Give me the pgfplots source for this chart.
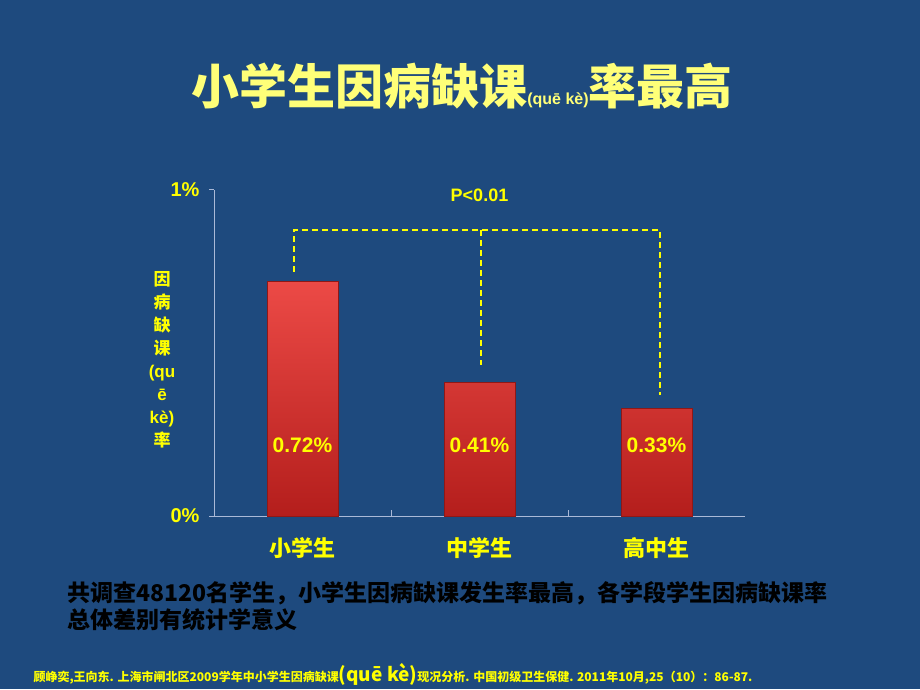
\documentclass[border=0pt]{standalone}
\usepackage{pgfplots}
\pgfplotsset{compat=1.18}
\usepackage{fontspec}
\setmainfont{Liberation Sans}
\newfontfamily\cjk{Noto Sans CJK SC}
\definecolor{bg}{RGB}{30,74,126}
\definecolor{ttl}{RGB}{255,255,120}
\definecolor{yel}{RGB}{255,255,0}
\definecolor{axc}{RGB}{170,185,215}
\definecolor{bartop}{RGB}{236,74,70}
\definecolor{barbot}{RGB}{180,30,28}
\begin{document}
\begin{tikzpicture}[x=1pt,y=1pt]
\fill[bg] (0,0) rectangle (920,689);
% title
\node[anchor=base,text=ttl,font=\bfseries] at (462,584)
 {{\cjk\fontsize{48}{52}\selectfont 小学生因病缺课}{\fontsize{16}{18}\selectfont (quē kè)}{\cjk\fontsize{48}{52}\selectfont 率最高}};
\begin{axis}[
  at={(214pt,173pt)}, anchor=south west,
  scale only axis, width=531pt, height=326pt,
  xmin=-0.5, xmax=2.5, ymin=0, ymax=1,
  axis x line*=bottom, axis y line*=left,
  axis line style={axc, line width=1pt},
  xtick={0,1,2}, xticklabels={小学生,中学生,高中生},
  minor xtick={0.5,1.5},
  x tick label style={font=\cjk\bfseries\fontsize{22}{24}\selectfont, text=yel, yshift=-18pt},
  major x tick style={draw=none},
  minor x tick style={axc, line width=1pt},
  minor tick length=6pt,
  xtick align=inside,
  ytick={0,1}, yticklabels={0\%,1\%},
  ytick align=outside, major tick length=5pt,
  y tick style={axc, line width=1pt},
  y tick label style={font=\bfseries\fontsize{20}{22}\selectfont, text=yel, xshift=-6pt},
  clip=false,
]
\addplot[ybar, bar width=71pt, draw=barbot!80!black, top color=bartop, bottom color=barbot]
  coordinates {(0,0.72) (1,0.41) (2,0.33)};
\addplot[yel, line width=1.8pt, dash pattern=on 6pt off 4pt, sharp plot]
  coordinates {(-0.05,0.75) (-0.05,0.877) (2.02,0.877) (2.02,0.37)};
\addplot[yel, line width=1.8pt, dash pattern=on 6pt off 4pt, sharp plot]
  coordinates {(1.01,0.877) (1.01,0.463)};
\node[text=yel,font=\bfseries\fontsize{18}{20}\selectfont] at (axis cs:1,0.985) {P<0.01};
\node[text=yel,font=\bfseries\fontsize{21}{23}\selectfont] at (axis cs:0,0.218) {0.72\%};
\node[text=yel,font=\bfseries\fontsize{21}{23}\selectfont] at (axis cs:1,0.218) {0.41\%};
\node[text=yel,font=\bfseries\fontsize{21}{23}\selectfont] at (axis cs:2,0.218) {0.33\%};
\end{axis}
% y label stacked
\node[text=yel,font=\bfseries\fontsize{17}{23}\selectfont,align=center,anchor=center] at (162,329)
 {{\cjk 因}\\{\cjk 病}\\{\cjk 缺}\\{\cjk 课}\\(qu\\ē\\kè)\\{\cjk 率}};
% bottom text
\node[anchor=base west,text=black,font=\cjk\bfseries\fontsize{23}{27}\selectfont,align=left] at (64,61)
 {共调查48120名学生，小学生因病缺课发生率最高，各学段学生因病缺课率\\总体差别有统计学意义};
\node[anchor=base west,text=yel,font=\cjk\bfseries\fontsize{12}{14}\selectfont] at (30,8)
 {顾峥奕,王向东. 上海市闸北区2009学年中小学生因病缺课{\fontsize{19}{20}\selectfont (quē kè)}现况分析. 中国初级卫生保健. 2011年10月,25（10）：86-87.};
\end{tikzpicture}
\end{document}
